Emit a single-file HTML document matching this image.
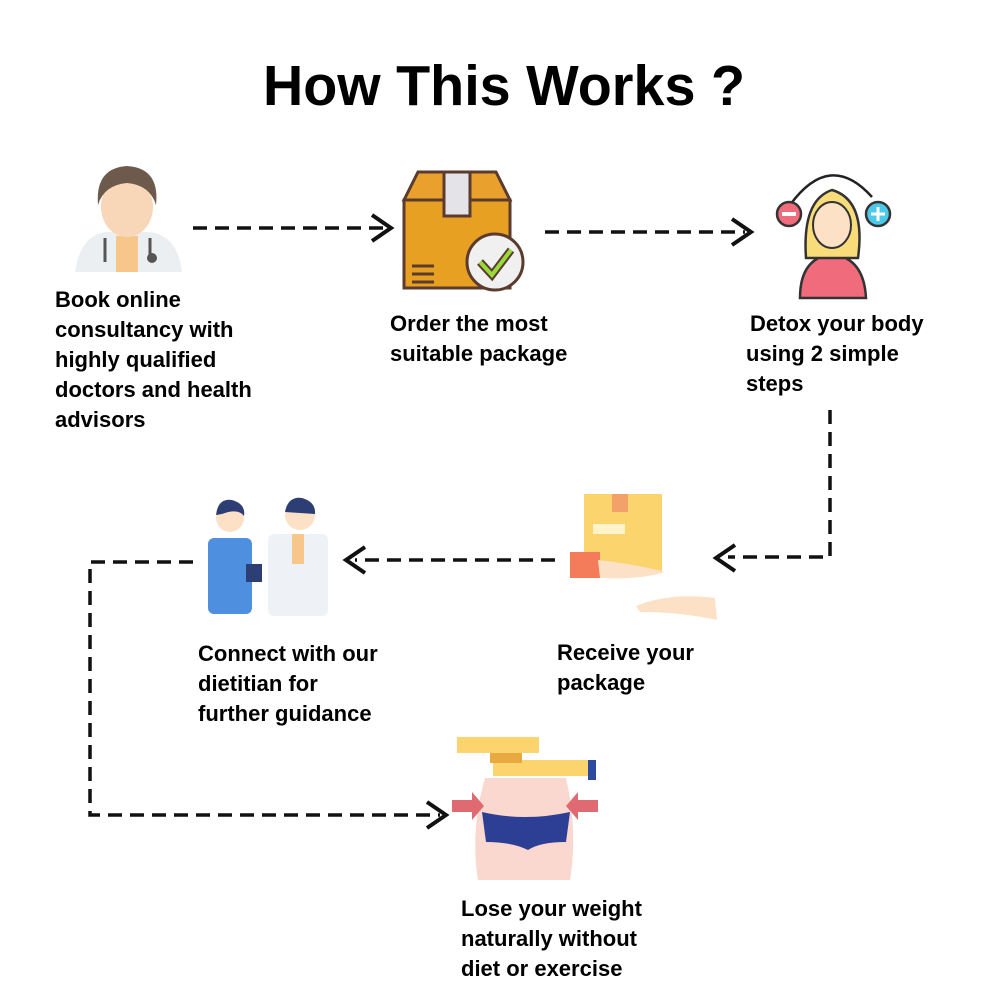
<!DOCTYPE html>
<html><head><meta charset="utf-8"><style>
html,body{margin:0;padding:0;background:#fff;width:1000px;height:1000px;overflow:hidden}
svg{display:block}
text{font-family:"Liberation Sans",sans-serif;font-weight:bold;fill:#000}
.l{font-size:22px}
</style></head><body>
<svg width="1000" height="1000" viewBox="0 0 1000 1000">
<text x="504" y="105" font-size="57" text-anchor="middle" textLength="482" lengthAdjust="spacingAndGlyphs">How This  Works ?</text>

<g stroke="#111" stroke-width="3.5" fill="none" stroke-dasharray="14,8">
<line x1="193" y1="228" x2="385" y2="228"/>
<line x1="545" y1="232" x2="745" y2="232"/>
<polyline points="830,410 830,557 728,557"/>
<line x1="555" y1="560" x2="355" y2="560"/>
<polyline points="193,562 90,562 90,815 440,815"/>
</g>
<g stroke="#111" stroke-width="4" fill="none">
<polyline points="372,215 391,228 372,241"/>
<polyline points="732,219 751,232 732,245"/>
<polyline points="735,545 716,558 735,571"/>
<polyline points="365,547 346,560 365,573"/>
<polyline points="427,802 446,815 427,828"/>
</g>

<g>
<path d="M75 272 Q80 236 105 232 L150 232 Q178 236 182 272 Z" fill="#eceff1"/>
<rect x="116" y="236" width="22" height="36" fill="#f6c68a"/>
<ellipse cx="127" cy="207" rx="26" ry="30" fill="#f7d7b8"/>
<path d="M98 205 Q95 168 127 166 Q160 168 156 205 Q150 185 127 183 Q104 185 98 205Z" fill="#6d5a4c"/>
<path d="M105 238 L105 262 M150 238 L150 255" stroke="#555" stroke-width="3" fill="none"/>
<circle cx="152" cy="258" r="5" fill="#555"/>
</g>

<g>
<path d="M404 200 L418 172 L496 172 L510 200 Z" fill="#e9a02c" stroke="#5a3b2e" stroke-width="3"/>
<rect x="404" y="200" width="106" height="88" fill="#e8a023" stroke="#5a3b2e" stroke-width="3"/>
<rect x="444" y="172" width="26" height="44" fill="#e4e4e8" stroke="#5a3b2e" stroke-width="3"/>
<path d="M412 266h22M412 274h22M412 282h22" stroke="#5a3b2e" stroke-width="3"/>
<circle cx="495" cy="262" r="28" fill="#f0f0f0" stroke="#5a3b2e" stroke-width="3"/>
<path d="M480 262 L492 275 L511 250" stroke="#5a3b2e" stroke-width="8" fill="none"/>
<path d="M480 262 L492 275 L511 250" stroke="#9ad93a" stroke-width="4" fill="none"/>
</g>

<g>
<path d="M790 205 Q830 150 872 197" stroke="#222" stroke-width="2.5" fill="none"/>
<circle cx="789" cy="214" r="12" fill="#f06b7c" stroke="#333" stroke-width="2.5"/>
<rect x="782" y="212" width="14" height="4" fill="#fff"/>
<circle cx="878" cy="214" r="12" fill="#4cc8ea" stroke="#333" stroke-width="2.5"/>
<path d="M878 207v14M871 214h14" stroke="#fff" stroke-width="3"/>
<path d="M800 298 Q800 258 832 254 Q864 258 866 298 Z" fill="#f06b7c" stroke="#333" stroke-width="2.5"/>
<path d="M806 258 Q802 200 832 190 Q866 200 858 258 Z" fill="#f9dc7a" stroke="#333" stroke-width="2.5"/>
<ellipse cx="832" cy="225" rx="19" ry="23" fill="#fde1c6" stroke="#333" stroke-width="2"/>
</g>

<g>
<rect x="584" y="494" width="78" height="78" fill="#fbd46e"/>
<rect x="612" y="494" width="16" height="18" fill="#f4a06a"/>
<rect x="593" y="524" width="32" height="10" fill="#fff3c9"/>
<rect x="570" y="552" width="30" height="26" fill="#f57c5a"/>
<path d="M598 560 Q640 565 665 572 Q640 580 600 578Z" fill="#fde1c6"/>
<path d="M636 606 Q670 592 715 598 L717 620 Q680 612 640 612Z" fill="#fde1c6"/>
</g>

<g>
<rect x="208" y="538" width="44" height="76" rx="6" fill="#4f8fe0"/>
<circle cx="230" cy="518" r="14" fill="#fde1c6"/>
<path d="M216 515 Q218 498 232 500 Q246 504 244 516 Q238 508 222 514Z" fill="#2c3e73"/>
<rect x="268" y="534" width="60" height="82" rx="6" fill="#eef2f6"/>
<rect x="292" y="534" width="12" height="30" fill="#f6c68a"/>
<circle cx="300" cy="515" r="15" fill="#fde1c6"/>
<path d="M285 512 Q288 496 302 498 Q316 502 315 514Z" fill="#2c3e73"/>
<rect x="246" y="564" width="16" height="18" fill="#2c3e73"/>
</g>

<g>
<rect x="457" y="737" width="82" height="16" fill="#fbd46e"/>
<rect x="493" y="760" width="100" height="16" fill="#fbd46e"/>
<rect x="588" y="760" width="8" height="20" fill="#2c4a9e"/>
<rect x="490" y="753" width="32" height="10" fill="#e8a940"/>
<path d="M485 778 Q470 830 478 880 L570 880 Q578 830 566 778 Z" fill="#fad7cf"/>
<path d="M482 812 Q525 822 570 812 L566 842 Q540 842 528 850 Q512 842 486 842 Z" fill="#2d3f94"/>
<path d="M452 800h20v-8l12 14 -12 14v-8h-20z" fill="#e06a72"/>
<path d="M598 800h-20v-8l-12 14 12 14v-8h20z" fill="#e06a72"/>
</g>

<g class="l">
<text x="55" y="307">Book online</text>
<text x="55" y="337">consultancy with</text>
<text x="55" y="367">highly qualified</text>
<text x="55" y="397">doctors and health</text>
<text x="55" y="427">advisors</text>
<text x="390" y="331">Order the most</text>
<text x="390" y="361">suitable package</text>
<text x="750" y="331">Detox your body</text>
<text x="746" y="361">using 2 simple</text>
<text x="746" y="391">steps</text>
<text x="557" y="660">Receive your</text>
<text x="557" y="690">package</text>
<text x="198" y="661">Connect with our</text>
<text x="198" y="691">dietitian for</text>
<text x="198" y="721">further guidance</text>
<text x="461" y="916">Lose your weight</text>
<text x="461" y="946">naturally without</text>
<text x="461" y="976">diet or exercise</text>
</g>
</svg>
</body></html>
